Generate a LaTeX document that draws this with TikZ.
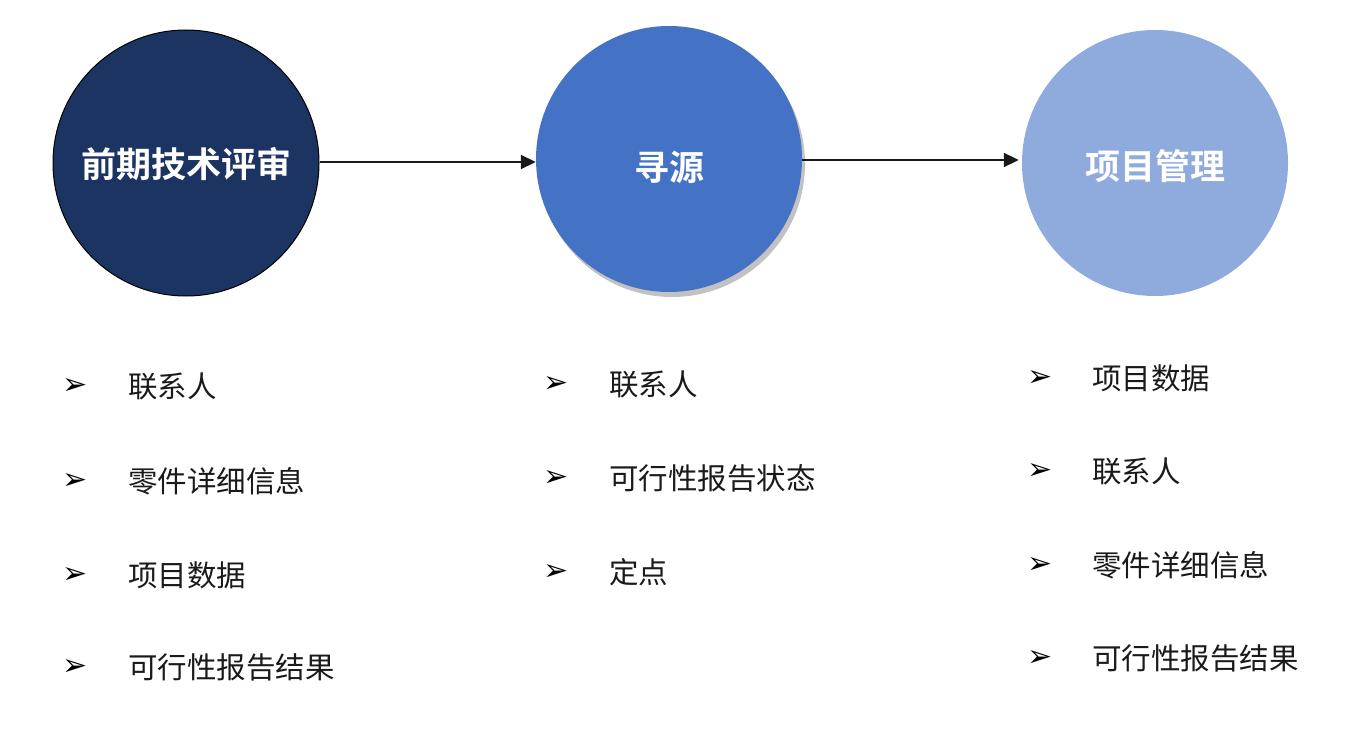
\documentclass[tikz,border=0pt]{standalone}
\usepackage{fontspec}
\newfontfamily\cjk{Noto Sans CJK SC}
\newfontfamily\cjkb{Noto Sans CJK SC Bold}
\newfontfamily\dejavu{DejaVu Sans}
\usetikzlibrary{arrows.meta,shadows}
\definecolor{navy}{HTML}{1C3461}
\definecolor{midblue}{HTML}{4472C4}
\definecolor{lightblue}{HTML}{8FAADC}
\definecolor{txt}{HTML}{1A1A1A}
\tikzset{
  stage/.style={circle, minimum size=266pt, inner sep=0pt},
  stagetext/.style={text=white, inner sep=0pt, font=\cjkb\fontsize{35}{40}\selectfont},
  flow/.style={line width=1.8pt, draw=black!90, -{Triangle[length=15pt,width=14pt]}},
  bul/.style={font=\dejavu\fontsize{30}{32}\selectfont, text=black, inner sep=0pt},
  item/.style={anchor=west, inner sep=0pt, font=\cjk\fontsize{29.5}{34}\selectfont, text=txt},
}
\begin{document}
\begin{tikzpicture}[x=1pt,y=-1pt]
\useasboundingbox (0,0) rectangle (1367,749);
\node[stage, fill=navy, draw=black, line width=1pt,
  label={[stagetext, yshift=-1pt]center:前期技术评审}] (c1) at (186,163) {};
\node[stage, fill=midblue, drop shadow={shadow xshift=3pt, shadow yshift=-5pt, fill=black!40, opacity=0.6},
  label={[stagetext, yshift=-8pt]center:寻源}] (c2) at (669,159) {};
\node[stage, fill=lightblue,
  label={[stagetext, yshift=-3pt]center:项目管理}] (c3) at (1155,163) {};
\draw[flow] (c1.east |- 0,162) -- (c2.west |- 0,162);
\draw[flow] (c2.east |- 0,160) -- ([xshift=-3pt]c3.west |- 0,160);

% left column
\node[bul] (b11) at (75,386) {➢};
\node[item] (t11) at (128,386) {联系人};
\node[bul] (b12) at (75,481) {➢};
\node[item] (t12) at (128,481) {零件详细信息};
\node[bul] (b13) at (75,575) {➢};
\node[item] (t13) at (128,575) {项目数据};
\node[bul] (b14) at (75,667) {➢};
\node[item] (t14) at (128,667) {可行性报告结果};
% middle column
\node[bul] (b21) at (556,384) {➢};
\node[item] (t21) at (609,384) {联系人};
\node[bul] (b22) at (556,478) {➢};
\node[item] (t22) at (609,478) {可行性报告状态};
\node[bul] (b23) at (556,572) {➢};
\node[item] (t23) at (609,572) {定点};
% right column
\node[bul] (b31) at (1040,378) {➢};
\node[item] (t31) at (1092,378) {项目数据};
\node[bul] (b32) at (1040,471) {➢};
\node[item] (t32) at (1092,471) {联系人};
\node[bul] (b33) at (1040,565) {➢};
\node[item] (t33) at (1092,565) {零件详细信息};
\node[bul] (b34) at (1040,658) {➢};
\node[item] (t34) at (1092,658) {可行性报告结果};
\end{tikzpicture}
\end{document}
